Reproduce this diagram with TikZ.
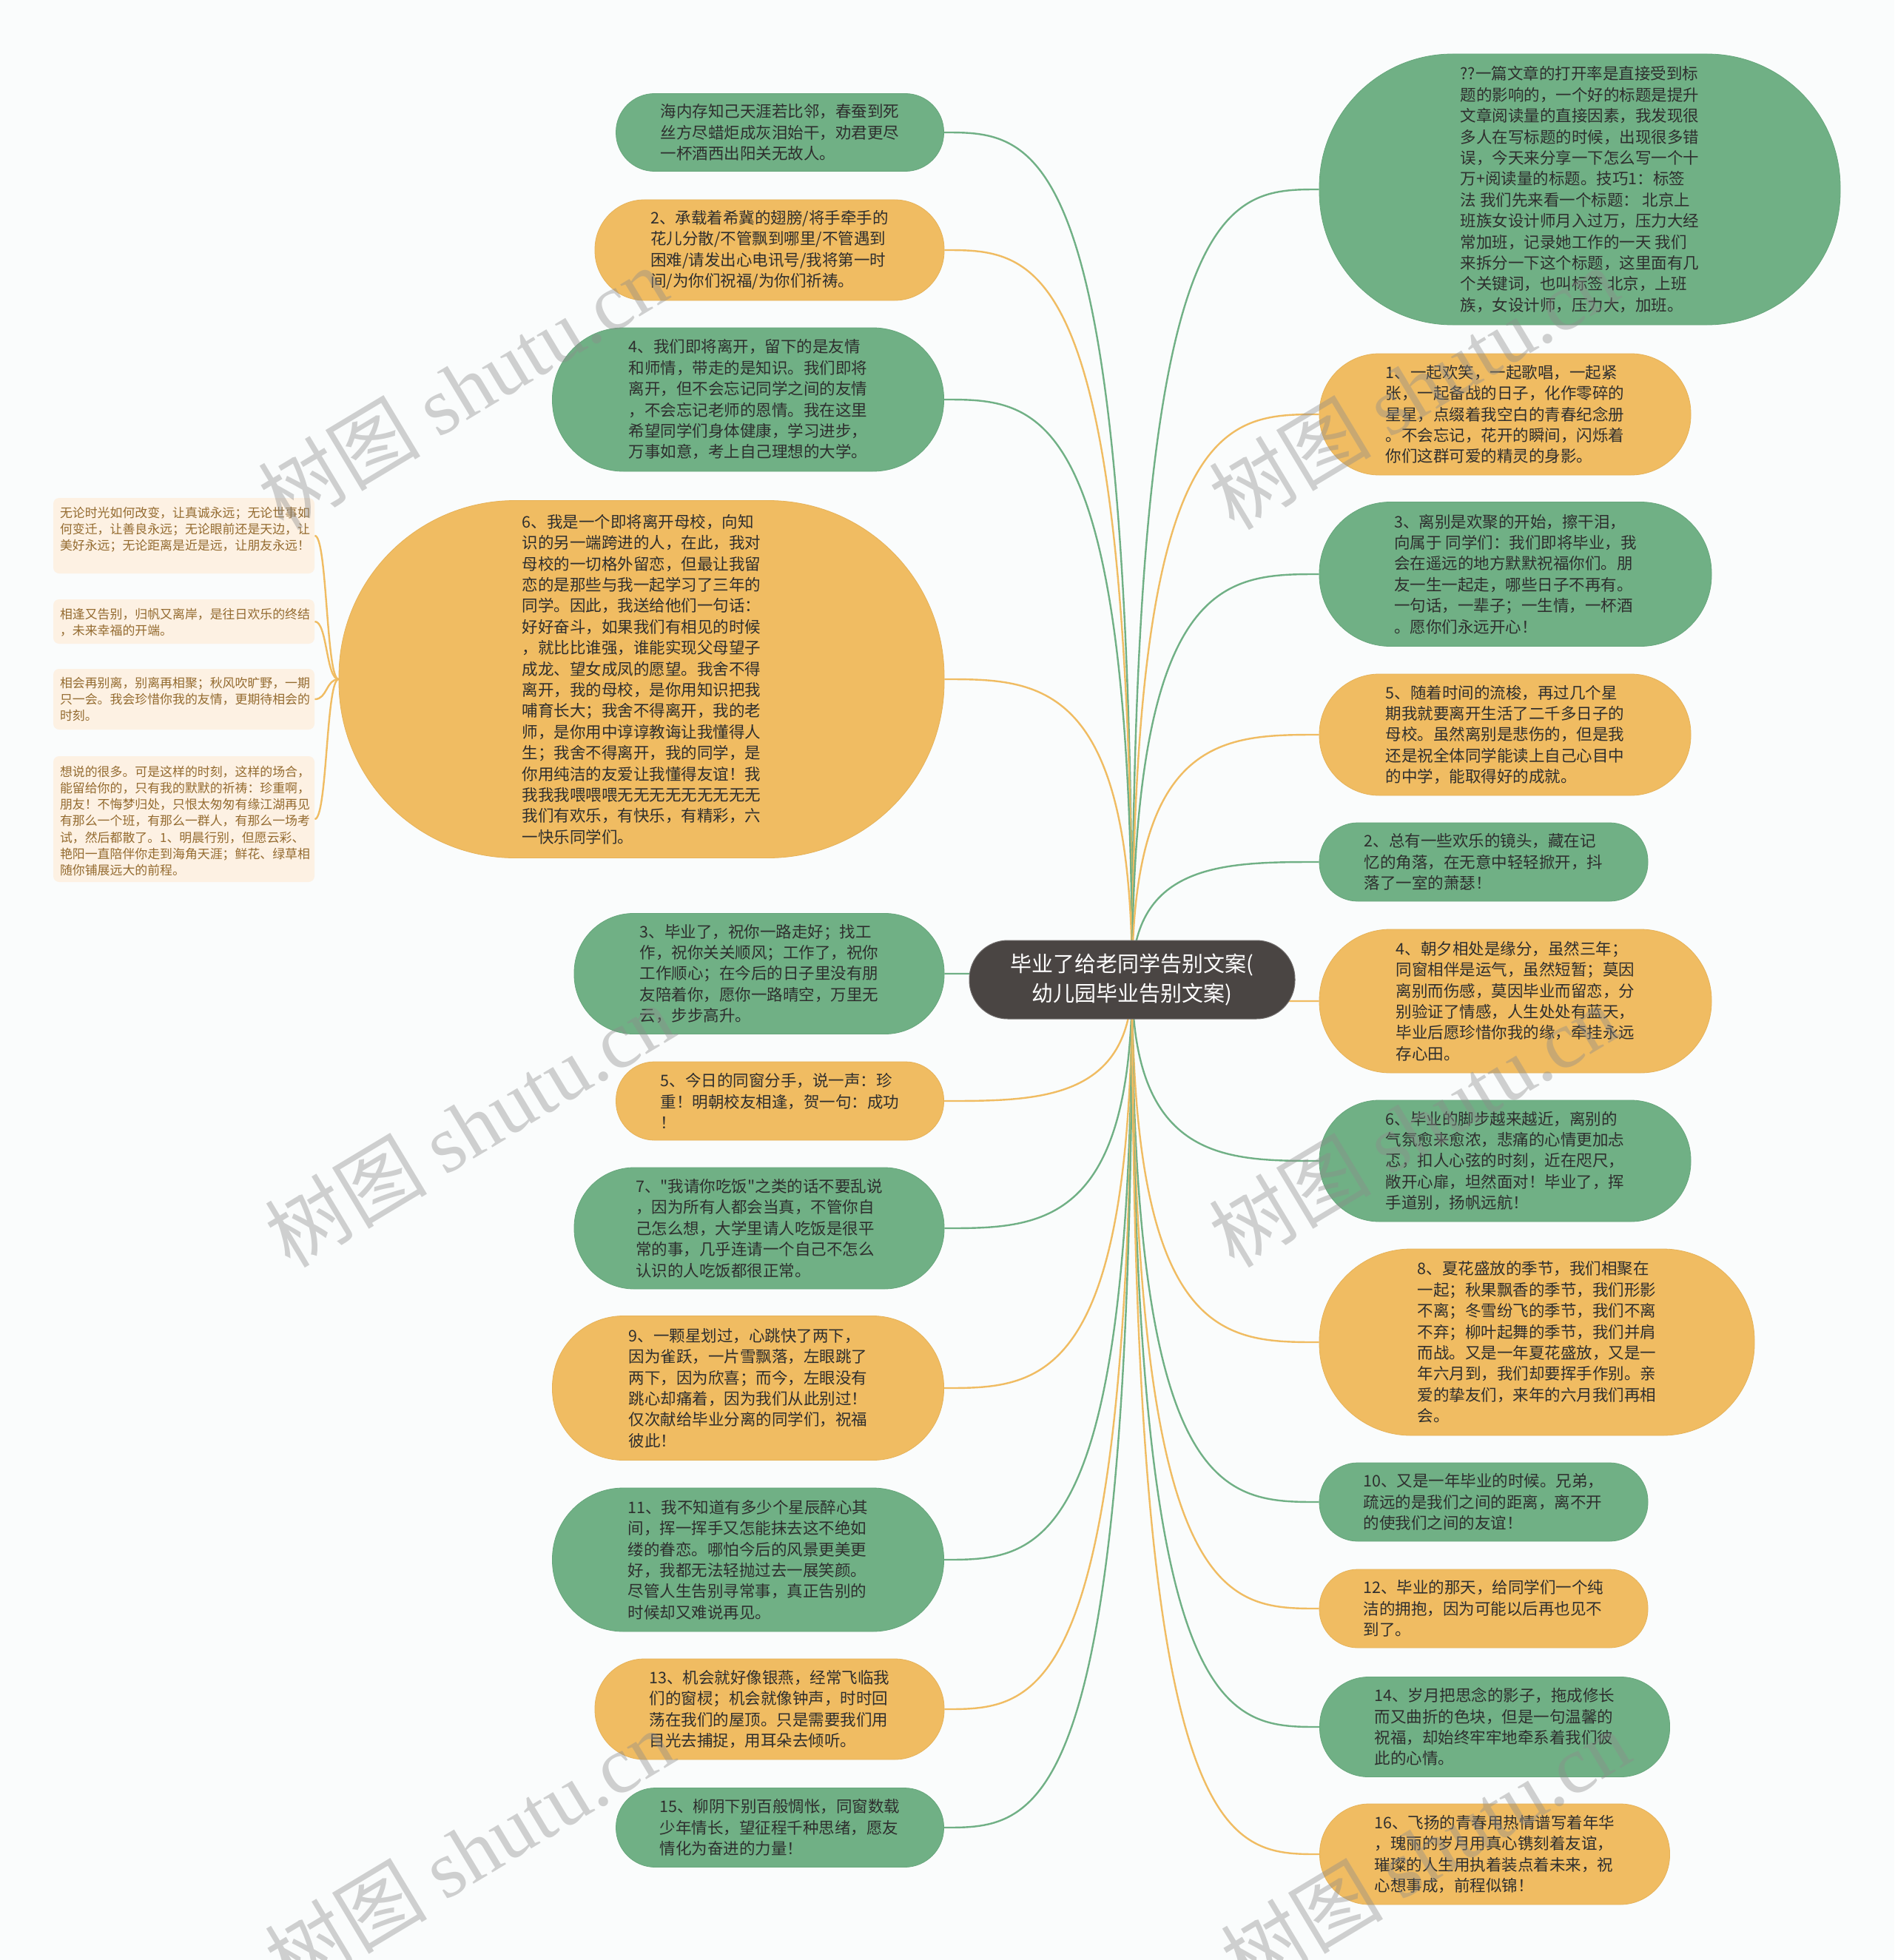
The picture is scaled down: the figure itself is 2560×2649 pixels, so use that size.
\documentclass[tikz,border=0pt]{standalone}
\usepackage{fontspec}
\newfontfamily\cjk{Noto Sans CJK SC}
\newfontfamily\wmserif{Liberation Serif}
\usetikzlibrary{calc}
\pgfdeclarelayer{bg}
\pgfsetlayers{bg,main}
\definecolor{gcol}{HTML}{70B085}
\definecolor{gdark}{HTML}{66A67B}
\definecolor{ocol}{HTML}{F0BC62}
\definecolor{odark}{HTML}{E6B258}
\definecolor{ccol}{HTML}{4A4543}
\definecolor{ncol}{HTML}{FDF1E3}
\definecolor{ntext}{HTML}{946B30}
\definecolor{txt}{HTML}{2E2E2E}
\definecolor{bgc}{HTML}{FAFCFC}
\newcommand\mmconn[3]{\draw[#1] (C.center) .. controls (C.center |- #2.#3) and ($(C.center |- #2.#3)!0.5!(#2.#3)$) .. (#2.#3);}
\newcommand\mmnote[1]{\draw[oline] (L4.west) .. controls +(-17,0) and +(17,0) .. (#1.east);}
\begin{document}
\begin{tikzpicture}[x=0.5pt,y=-0.5pt,
  bub/.style={shape=rectangle, inner sep=0pt, align=left, text=txt, font=\cjk\fontsize{10.75pt}{14.2pt}\selectfont, line width=0.4pt},
  gbub/.style={bub, fill=gcol, draw=gdark},
  obub/.style={bub, fill=ocol, draw=odark},
  sz/.style n args={3}{minimum width=#1pt, minimum height=#2pt, rounded corners=#3pt},
  gline/.style={draw=gcol, line width=1.2pt},
  oline/.style={draw=ocol, line width=1.2pt},
  notebox/.style={shape=rectangle, fill=ncol, rounded corners=4pt, minimum width=176.5pt, inner sep=0pt},
  notetext/.style={anchor=north west, inner sep=0pt, align=left, text=ntext, font=\cjk\fontsize{8.45pt}{11.1pt}\selectfont},
  wm/.style={text=black!45, opacity=0.4, rotate=31, inner sep=0pt, font=\fontsize{55pt}{60pt}\selectfont}
]
\begin{pgfonlayer}{bg}
\fill[bgc] (0,0) rectangle (2560,2649);
\end{pgfonlayer}
\useasboundingbox (0,0) rectangle (2560,2649);

% central
\node[shape=rectangle, fill=ccol, draw=ccol!80!white, line width=0.5pt, sz={220}{53}{26}, inner sep=0pt, align=center, text=white, font=\cjk\fontsize{14.5pt}{20pt}\selectfont] (C) at (1530,1324) {毕业了给老同学告别文案(\\幼儿园毕业告别文案)};

% left column
\node[gbub, sz={221.5}{52.5}{26}] (L1) at (1054,179) {海内存知己天涯若比邻，春蚕到死\\丝方尽蜡炬成灰泪始干，劝君更尽\\一杯酒西出阳关无故人。};
\node[obub, sz={236}{68}{33.5}] (L2) at (1040,338) {2、承载着希冀的翅膀/将手牵手的\\花儿分散/不管飘到哪里/不管遇到\\困难/请发出心电讯号/我将第一时\\间/为你们祝福/为你们祈祷。};
\node[gbub, sz={264.5}{97}{48}] (L3) at (1011,540) {4、我们即将离开，留下的是友情\\和师情，带走的是知识。我们即将\\离开，但不会忘记同学之间的友情\\，不会忘记老师的恩情。我在这里\\希望同学们身体健康，学习进步，\\万事如意，考上自己理想的大学。};
\node[obub, sz={409}{241.5}{119}] (L4) at (867,918) {6、我是一个即将离开母校，向知\\识的另一端跨进的人，在此，我对\\母校的一切格外留恋，但最让我留\\恋的是那些与我一起学习了三年的\\同学。因此，我送给他们一句话：\\好好奋斗，如果我们有相见的时候\\，就比比谁强，谁能实现父母望子\\成龙、望女成凤的愿望。我舍不得\\离开，我的母校，是你用知识把我\\哺育长大；我舍不得离开，我的老\\师，是你用中谆谆教诲让我懂得人\\生；我舍不得离开，我的同学，是\\你用纯洁的友爱让我懂得友谊！我\\我我我喂喂喂无无无无无无无无无\\我们有欢乐，有快乐，有精彩，六\\一快乐同学们。};
\node[gbub, sz={250}{81.5}{40}] (L5) at (1026,1316) {3、毕业了，祝你一路走好；找工\\作，祝你关关顺风；工作了，祝你\\工作顺心；在今后的日子里没有朋\\友陪着你，愿你一路晴空，万里无\\云，步步高升。};
\node[obub, sz={221.5}{53}{26}] (L6) at (1054,1488) {5、今日的同窗分手，说一声：珍\\重！明朝校友相逢，贺一句：成功\\！};
\node[gbub, sz={250}{82}{40.5}] (L7) at (1026,1660) {7、"我请你吃饭"之类的话不要乱说\\，因为所有人都会当真，不管你自\\己怎么想，大学里请人吃饭是很平\\常的事，几乎连请一个自己不怎么\\认识的人吃饭都很正常。};
\node[obub, sz={264.5}{97.5}{48}] (L8) at (1011,1876) {9、一颗星划过，心跳快了两下，\\因为雀跃，一片雪飘落，左眼跳了\\两下，因为欣喜；而今，左眼没有\\跳心却痛着，因为我们从此别过！\\仅次献给毕业分离的同学们，祝福\\彼此！};
\node[gbub, sz={264.5}{97}{48}] (L9) at (1011,2108) {11、我不知道有多少个星辰醉心其\\间，挥一挥手又怎能抹去这不绝如\\缕的眷恋。哪怕今后的风景更美更\\好，我都无法轻抛过去一展笑颜。\\尽管人生告别寻常事，真正告别的\\时候却又难说再见。};
\node[obub, sz={236}{68}{33.5}] (L10) at (1040,2310) {13、机会就好像银燕，经常飞临我\\们的窗棂；机会就像钟声，时时回\\荡在我们的屋顶。只是需要我们用\\目光去捕捉，用耳朵去倾听。};
\node[gbub, sz={221.5}{53.5}{26.5}] (L11) at (1054,2470) {15、柳阴下别百般惆怅，同窗数载\\少年情长，望征程千种思绪，愿友\\情化为奋进的力量！};

% right column
\node[gbub, sz={352}{183}{90}] (R1) at (2135,256) {??一篇文章的打开率是直接受到标\\题的影响的，一个好的标题是提升\\文章阅读量的直接因素，我发现很\\多人在写标题的时候，出现很多错\\误，今天来分享一下怎么写一个十\\万+阅读量的标题。技巧1：标签\\法 我们先来看一个标题： 北京上\\班族女设计师月入过万，压力大经\\常加班，记录她工作的一天 我们\\来拆分一下这个标题，这里面有几\\个关键词，也叫标签 北京，上班\\族，女设计师，压力大，加班。};
\node[obub, sz={251}{82}{40.5}] (R2) at (2034,560) {1、一起欢笑，一起歌唱，一起紧\\张，一起备战的日子，化作零碎的\\星星，点缀着我空白的青春纪念册\\。不会忘记，花开的瞬间，闪烁着\\你们这群可爱的精灵的身影。};
\node[gbub, sz={265}{97.5}{48}] (R3) at (2048,776) {3、离别是欢聚的开始，擦干泪，\\向属于 同学们：我们即将毕业，我\\会在遥远的地方默默祝福你们。朋\\友一生一起走，哪些日子不再有。\\一句话，一辈子；一生情，一杯酒\\。愿你们永远开心！};
\node[obub, sz={251}{82}{40.5}] (R4) at (2034,993) {5、随着时间的流梭，再过几个星\\期我就要离开生活了二千多日子的\\母校。虽然离别是悲伤的，但是我\\还是祝全体同学能读上自己心目中\\的中学，能取得好的成就。};
\node[gbub, sz={222}{53}{26}] (R5) at (2005,1165) {2、总有一些欢乐的镜头，藏在记\\忆的角落，在无意中轻轻掀开，抖\\落了一室的萧瑟！};
\node[obub, sz={265}{97}{48}] (R6) at (2048,1353) {4、朝夕相处是缘分，虽然三年；\\同窗相伴是运气，虽然短暂；莫因\\离别而伤感，莫因毕业而留恋，分\\别验证了情感，人生处处有蓝天，\\毕业后愿珍惜你我的缘，牵挂永远\\存心田。};
\node[gbub, sz={251}{82}{40.5}] (R7) at (2034,1569) {6、毕业的脚步越来越近，离别的\\气氛愈来愈浓，悲痛的心情更加忐\\忑，扣人心弦的时刻，近在咫尺，\\敞开心扉，坦然面对！毕业了，挥\\手道别，扬帆远航！};
\node[obub, sz={294}{126}{62}] (R8) at (2077,1814) {8、夏花盛放的季节，我们相聚在\\一起；秋果飘香的季节，我们形影\\不离；冬雪纷飞的季节，我们不离\\不弃；柳叶起舞的季节，我们并肩\\而战。又是一年夏花盛放，又是一\\年六月到，我们却要挥手作别。亲\\爱的挚友们，来年的六月我们再相\\会。};
\node[gbub, sz={222}{53}{26}] (R9) at (2005,2030) {10、又是一年毕业的时候。兄弟，\\疏远的是我们之间的距离，离不开\\的使我们之间的友谊！};
\node[obub, sz={222}{53}{26}] (R10) at (2005,2174) {12、毕业的那天，给同学们一个纯\\洁的拥抱，因为可能以后再也见不\\到了。};
\node[gbub, sz={236.5}{67.5}{33}] (R11) at (2020,2334) {14、岁月把思念的影子，拖成修长\\而又曲折的色块，但是一句温馨的\\祝福，却始终牢牢地牵系着我们彼\\此的心情。};
\node[obub, sz={236.5}{68}{33.5}] (R12) at (2020,2506) {16、飞扬的青春用热情谱写着年华\\，瑰丽的岁月用真心镌刻着友谊，\\璀璨的人生用执着装点着未来，祝\\心想事成，前程似锦！};

% notes
\node[notebox, minimum height=51pt] (N1) at (248.5,724) {};
\node[notebox, minimum height=30pt] (N2) at (248.5,840) {};
\node[notebox, minimum height=41pt] (N3) at (248.5,945) {};
\node[notebox, minimum height=85pt] (N4) at (248.5,1107) {};
\node[notetext] (N1t) at ($(N1.north west)+(9,12)$) {无论时光如何改变，让真诚永远；无论世事如\\何变迁，让善良永远；无论眼前还是天边，让\\美好永远；无论距离是近是远，让朋友永远！};
\node[notetext] (N2t) at ($(N2.north west)+(9,12)$) {相逢又告别，归帆又离岸，是往日欢乐的终结\\，未来幸福的开端。};
\node[notetext] (N3t) at ($(N3.north west)+(9,11)$) {相会再别离，别离再相聚；秋风吹旷野，一期\\只一会。我会珍惜你我的友情，更期待相会的\\时刻。};
\node[notetext] (N4t) at ($(N4.north west)+(9,13)$) {想说的很多。可是这样的时刻，这样的场合，\\能留给你的，只有我的默默的祈祷：珍重啊，\\朋友！不悔梦归处，只恨太匆匆有缘江湖再见\\有那么一个班，有那么一群人，有那么一场考\\试，然后都散了。1、明晨行别，但愿云彩、\\艳阳一直陪伴你走到海角天涯；鲜花、绿草相\\随你铺展远大的前程。};

% connectors
\begin{pgfonlayer}{bg}
\mmconn{gline}{L1}{east}
\mmconn{oline}{L2}{east}
\mmconn{gline}{L3}{east}
\mmconn{oline}{L4}{east}
\mmconn{gline}{L5}{east}
\mmconn{oline}{L6}{east}
\mmconn{gline}{L7}{east}
\mmconn{oline}{L8}{east}
\mmconn{gline}{L9}{east}
\mmconn{oline}{L10}{east}
\mmconn{gline}{L11}{east}
\mmconn{gline}{R1}{west}
\mmconn{oline}{R2}{west}
\mmconn{gline}{R3}{west}
\mmconn{oline}{R4}{west}
\mmconn{gline}{R5}{west}
\mmconn{oline}{R6}{west}
\mmconn{gline}{R7}{west}
\mmconn{oline}{R8}{west}
\mmconn{gline}{R9}{west}
\mmconn{oline}{R10}{west}
\mmconn{gline}{R11}{west}
\mmconn{oline}{R12}{west}
\mmnote{N1}
\mmnote{N2}
\mmnote{N3}
\mmnote{N4}
\end{pgfonlayer}

% watermarks
\node[wm] (W1) at (625,524) {\cjk 树图 \wmserif shutu.cn};
\node[wm] (W2) at (1910,524) {\cjk 树图 \wmserif shutu.cn};
\node[wm] (W3) at (634,1521) {\cjk 树图 \wmserif shutu.cn};
\node[wm] (W4) at (1910,1521) {\cjk 树图 \wmserif shutu.cn};
\node[wm] (W5) at (634,2501) {\cjk 树图 \wmserif shutu.cn};
\node[wm] (W6) at (1926,2501) {\cjk 树图 \wmserif shutu.cn};
\end{tikzpicture}
\end{document}
